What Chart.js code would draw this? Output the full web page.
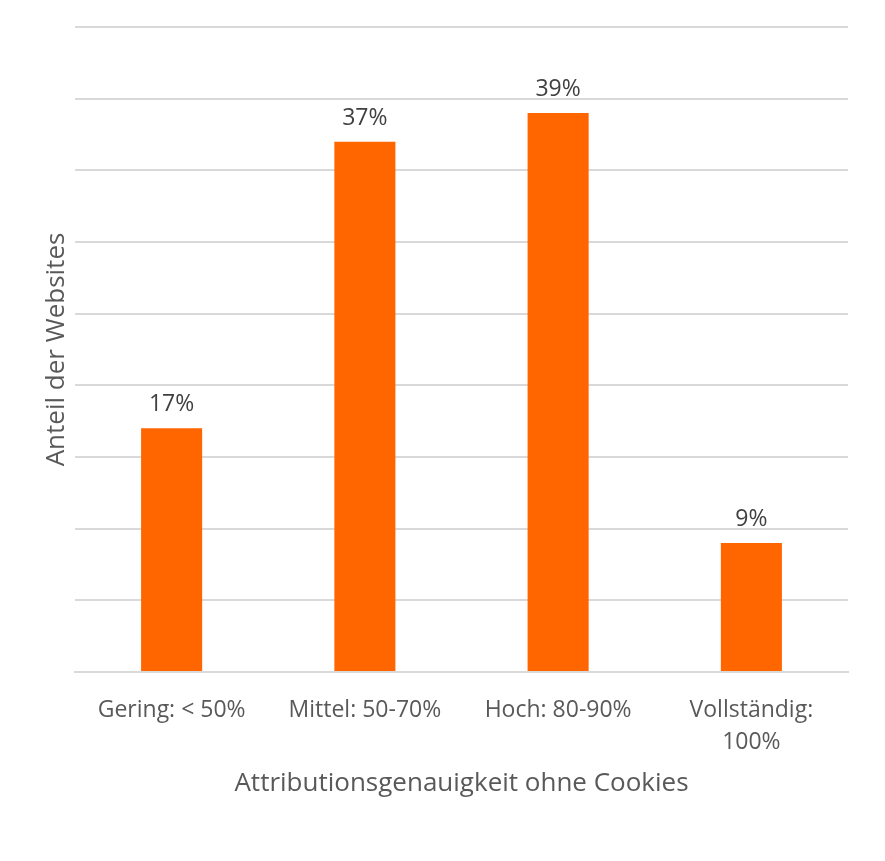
<!DOCTYPE html>
<html>
<head>
<meta charset="utf-8">
<script src="https://cdn.jsdelivr.net/npm/chart.js@4/dist/chart.umd.min.js"></script>
<style>
  html, body { margin: 0; padding: 0; background: #fff; }
  #wrap { width: 885px; height: 861px; }
</style>
</head>
<body>
<div id="wrap"><canvas id="chart"></canvas></div>
<script>
const categories = ["Gering: < 50%", "Mittel: 50-70%", "Hoch: 80-90%", ["Vollständig:", "100%"]];
const shares = [17, 37, 39, 9];
const yMax = 45;
const yStep = 5;

const FONT = "'Open Sans', Lato, sans-serif";

// draws the "xx%" labels above each bar
const valueLabels = {
    id: "valueLabels",
    afterDatasetsDraw(chart) {
        const ctx = chart.ctx;
        const meta = chart.getDatasetMeta(0);
        ctx.save();
        ctx.font = "23px " + FONT;
        ctx.fillStyle = "#404040";
        ctx.textAlign = "center";
        ctx.textBaseline = "alphabetic";
        meta.data.forEach((bar, i) => {
            ctx.fillText(shares[i] + "%", bar.x, bar.y - 17);
        });
        ctx.restore();
    }
};

new Chart(document.getElementById("chart").getContext("2d"), {
    type: "bar",
    data: {
        labels: categories,
        datasets: [{
            data: shares,
            backgroundColor: "#ff6600",
            barPercentage: 0.316,
            categoryPercentage: 1
        }]
    },
    options: {
        responsive: true,
        maintainAspectRatio: false,
        animation: false,
        layout: { padding: { top: 27, right: 37, bottom: 0, left: 0 } },
        plugins: {
            legend: { display: false },
            tooltip: { enabled: false }
        },
        scales: {
            x: {
                grid: { display: false, drawTicks: false },
                border: { color: "#d9d9d9", width: 2 },
                ticks: {
                    padding: 22,
                    color: "#595959",
                    font: { family: FONT, size: 23, lineHeight: 1.39 },
                    maxRotation: 0,
                    autoSkip: false
                },
                title: {
                    display: true,
                    text: "Attributionsgenauigkeit ohne Cookies",
                    color: "#595959",
                    font: { family: FONT, size: 26 },
                    padding: { top: 0, bottom: 62 }
                },
                afterFit(scale) { scale.height = 189; }
            },
            y: {
                min: 0,
                max: yMax,
                grid: { color: "#d9d9d9", lineWidth: 2, drawTicks: false },
                border: { display: false },
                ticks: { display: false, stepSize: yStep },
                title: {
                    display: true,
                    text: "Anteil der Websites",
                    color: "#595959",
                    font: { family: FONT, size: 26 },
                    padding: { top: 41, bottom: 0 }
                },
                afterFit(scale) { scale.width = 75; }
            }
        }
    },
    plugins: [valueLabels]
});
</script>
</body>
</html>
